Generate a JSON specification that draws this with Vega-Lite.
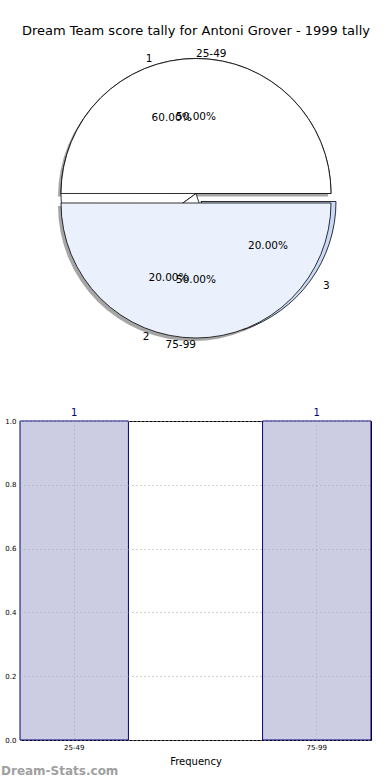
{
  "$schema": "https://vega.github.io/schema/vega-lite/v6.json",
  "background": "white",
  "padding": {"top": 25, "left": 0, "right": 0, "bottom": 0},
  "bounds": "flush",
  "spacing": 79,
  "config": {"font": "DejaVu Sans", "view": {"stroke": null}},
  "datasets": {
    "pie1": [
      {"label": "25-49", "value": 1, "pct": "50.00%"},
      {"label": "75-99", "value": 1, "pct": "50.00%"}
    ],
    "pie2": [
      {"label": "1", "value": 3, "pct": "60.00%"},
      {"label": "2", "value": 1, "pct": "20.00%"},
      {"label": "3", "value": 1, "pct": "20.00%"}
    ],
    "bars": [
      {"range": "25-49", "count": 1},
      {"range": "75-99", "count": 1}
    ]
  },
  "vconcat": [
    {
      "width": 352,
      "height": 297,
      "title": {"text": "Dream Team score tally for Antoni Grover - 1999 tally", "fontSize": 13, "fontWeight": "normal", "anchor": "middle", "offset": 1, "color": "black"},
      "resolve": {"scale": {"theta": "independent"}},
      "layer": [
        {
          "data": {"name": "pie1"},
          "mark": {"type": "arc", "radius": 135, "fill": "#4d4d4d", "fillOpacity": 0.5, "xOffset": -3, "yOffset": 3},
          "encoding": {
            "theta": {"field": "value", "type": "quantitative", "stack": true, "scale": {"range": [1.5708, 7.854]}},
            "order": {"field": "label", "sort": "descending"},
            "opacity": {"condition": {"test": "datum.label === '25-49'", "value": 1}, "value": 0}
          }
        },
        {
          "data": {"name": "pie1"},
          "mark": {"type": "arc", "radius": 135, "fill": "#4d4d4d", "fillOpacity": 0.5, "xOffset": -3, "yOffset": 12.5},
          "encoding": {
            "theta": {"field": "value", "type": "quantitative", "stack": true, "scale": {"range": [1.5708, 7.854]}},
            "order": {"field": "label", "sort": "descending"},
            "opacity": {"condition": {"test": "datum.label === '75-99'", "value": 1}, "value": 0}
          }
        },
        {
          "data": {"name": "pie2"},
          "mark": {"type": "arc", "radius": 135, "fill": "white", "stroke": "black", "strokeWidth": 0.8},
          "encoding": {
            "theta": {"field": "value", "type": "quantitative", "stack": true, "scale": {"range": [1.5708, 7.854]}},
            "order": {"field": "label", "sort": "descending"},
            "opacity": {"condition": {"test": "datum.label !== '3'", "value": 1}, "value": 0}
          }
        },
        {
          "data": {"name": "pie2"},
          "mark": {"type": "arc", "radius": 135, "fill": "#c8daf8", "stroke": "black", "strokeWidth": 0.8, "xOffset": 5, "yOffset": 8},
          "encoding": {
            "theta": {"field": "value", "type": "quantitative", "stack": true, "scale": {"range": [1.5708, 7.854]}},
            "order": {"field": "label", "sort": "descending"},
            "opacity": {"condition": {"test": "datum.label === '3'", "value": 1}, "value": 0}
          }
        },
        {
          "data": {"name": "pie1"},
          "mark": {"type": "arc", "radius": 135, "fill": "white", "stroke": "black", "strokeWidth": 0.8},
          "encoding": {
            "theta": {"field": "value", "type": "quantitative", "stack": true, "scale": {"range": [1.5708, 7.854]}},
            "order": {"field": "label", "sort": "descending"},
            "opacity": {"condition": {"test": "datum.label === '25-49'", "value": 1}, "value": 0}
          }
        },
        {
          "data": {"name": "pie1"},
          "mark": {"type": "arc", "radius": 135, "fill": "#eaf0fc", "stroke": "black", "strokeWidth": 0.8, "yOffset": 9.5},
          "encoding": {
            "theta": {"field": "value", "type": "quantitative", "stack": true, "scale": {"range": [1.5708, 7.854]}},
            "order": {"field": "label", "sort": "descending"},
            "opacity": {"condition": {"test": "datum.label === '75-99'", "value": 1}, "value": 0}
          }
        },
        {
          "data": {"name": "pie1"},
          "mark": {"type": "text", "radius": 140, "align": "left", "baseline": "middle", "fontSize": 10.5, "color": "black"},
          "encoding": {
            "theta": {"field": "value", "type": "quantitative", "stack": true, "scale": {"range": [1.5708, 7.854]}},
            "order": {"field": "label", "sort": "descending"},
            "text": {"field": "label"},
            "opacity": {"condition": {"test": "datum.label === '25-49'", "value": 1}, "value": 0}
          }
        },
        {
          "data": {"name": "pie1"},
          "mark": {"type": "text", "radius": 142, "yOffset": 9.5, "align": "right", "baseline": "middle", "fontSize": 10.5, "color": "black"},
          "encoding": {
            "theta": {"field": "value", "type": "quantitative", "stack": true, "scale": {"range": [1.5708, 7.854]}},
            "order": {"field": "label", "sort": "descending"},
            "text": {"field": "label"},
            "opacity": {"condition": {"test": "datum.label === '75-99'", "value": 1}, "value": 0}
          }
        },
        {
          "data": {"name": "pie1"},
          "mark": {"type": "text", "radius": 77, "align": "center", "baseline": "middle", "fontSize": 10.5, "color": "black"},
          "encoding": {
            "theta": {"field": "value", "type": "quantitative", "stack": true, "scale": {"range": [1.5708, 7.854]}},
            "order": {"field": "label", "sort": "descending"},
            "text": {"field": "pct"},
            "opacity": {"condition": {"test": "datum.label === '25-49'", "value": 1}, "value": 0}
          }
        },
        {
          "data": {"name": "pie1"},
          "mark": {"type": "text", "radius": 77, "yOffset": 9.5, "align": "center", "baseline": "middle", "fontSize": 10.5, "color": "black"},
          "encoding": {
            "theta": {"field": "value", "type": "quantitative", "stack": true, "scale": {"range": [1.5708, 7.854]}},
            "order": {"field": "label", "sort": "descending"},
            "text": {"field": "pct"},
            "opacity": {"condition": {"test": "datum.label === '75-99'", "value": 1}, "value": 0}
          }
        },
        {
          "data": {"name": "pie2"},
          "mark": {"type": "text", "radius": 141, "align": "right", "baseline": "middle", "fontSize": 10.5, "color": "black"},
          "encoding": {
            "theta": {"field": "value", "type": "quantitative", "stack": true, "scale": {"range": [1.5708, 7.854]}},
            "order": {"field": "label", "sort": "descending"},
            "text": {"field": "label"},
            "opacity": {"condition": {"test": "datum.label === '1'", "value": 1}, "value": 0}
          }
        },
        {
          "data": {"name": "pie2"},
          "mark": {"type": "text", "radius": 151, "align": "right", "baseline": "middle", "fontSize": 10.5, "color": "black"},
          "encoding": {
            "theta": {"field": "value", "type": "quantitative", "stack": true, "scale": {"range": [1.5708, 7.854]}},
            "order": {"field": "label", "sort": "descending"},
            "text": {"field": "label"},
            "opacity": {"condition": {"test": "datum.label === '2'", "value": 1}, "value": 0}
          }
        },
        {
          "data": {"name": "pie2"},
          "mark": {"type": "text", "radius": 157, "align": "left", "baseline": "middle", "fontSize": 10.5, "color": "black"},
          "encoding": {
            "theta": {"field": "value", "type": "quantitative", "stack": true, "scale": {"range": [1.5708, 7.854]}},
            "order": {"field": "label", "sort": "descending"},
            "text": {"field": "label"},
            "opacity": {"condition": {"test": "datum.label === '3'", "value": 1}, "value": 0}
          }
        },
        {
          "data": {"name": "pie2"},
          "mark": {"type": "text", "radius": 79, "align": "center", "baseline": "middle", "fontSize": 10.5, "color": "black"},
          "encoding": {
            "theta": {"field": "value", "type": "quantitative", "stack": true, "scale": {"range": [1.5708, 7.854]}},
            "order": {"field": "label", "sort": "descending"},
            "text": {"field": "pct"},
            "opacity": {"condition": {"test": "datum.label === '1'", "value": 1}, "value": 0}
          }
        },
        {
          "data": {"name": "pie2"},
          "mark": {"type": "text", "radius": 89, "align": "center", "baseline": "middle", "fontSize": 10.5, "color": "black"},
          "encoding": {
            "theta": {"field": "value", "type": "quantitative", "stack": true, "scale": {"range": [1.5708, 7.854]}},
            "order": {"field": "label", "sort": "descending"},
            "text": {"field": "pct"},
            "opacity": {"condition": {"test": "datum.label !== '1'", "value": 1}, "value": 0}
          }
        }
      ]
    },
    {
      "width": 351,
      "height": 319,
      "view": {"stroke": "black", "strokeWidth": 1},
      "title": {"text": "Dream-Stats.com", "orient": "bottom", "anchor": "start", "frame": "bounds", "fontSize": 12, "fontWeight": "bold", "color": "#a0a0a0", "offset": 0},
      "data": {"name": "bars"},
      "encoding": {
        "x": {
          "field": "range", "type": "nominal",
          "scale": {"domain": ["25-49", "75-99"], "paddingInner": 0.553, "paddingOuter": 0},
          "axis": {"title": "Frequency", "titleFontSize": 10, "titleFontWeight": "normal", "titleColor": "black", "titlePadding": 6, "labelAngle": 0, "labelFontSize": 7, "labelColor": "black", "labelPadding": 3, "ticks": false, "domain": false, "grid": true, "gridDash": [1, 3], "gridColor": "#aaaaaa", "bandPosition": 0.5, "zindex": 1}
        },
        "y": {
          "field": "count", "type": "quantitative",
          "scale": {"domain": [0, 1], "nice": false},
          "axis": {"title": null, "values": [0, 0.2, 0.4, 0.6, 0.8, 1], "format": ".1f", "labelFontSize": 7, "labelColor": "black", "labelPadding": 4, "minExtent": 19, "ticks": false, "domain": false, "grid": true, "gridDash": [1, 3], "gridColor": "#aaaaaa", "zindex": 1}
        }
      },
      "layer": [
        {"mark": {"type": "bar", "fill": "#ccccE3", "stroke": "#000080", "strokeWidth": 1}},
        {"mark": {"type": "text", "dy": -8, "color": "#000080", "fontSize": 10}, "encoding": {"text": {"field": "count"}}}
      ]
    }
  ]
}
